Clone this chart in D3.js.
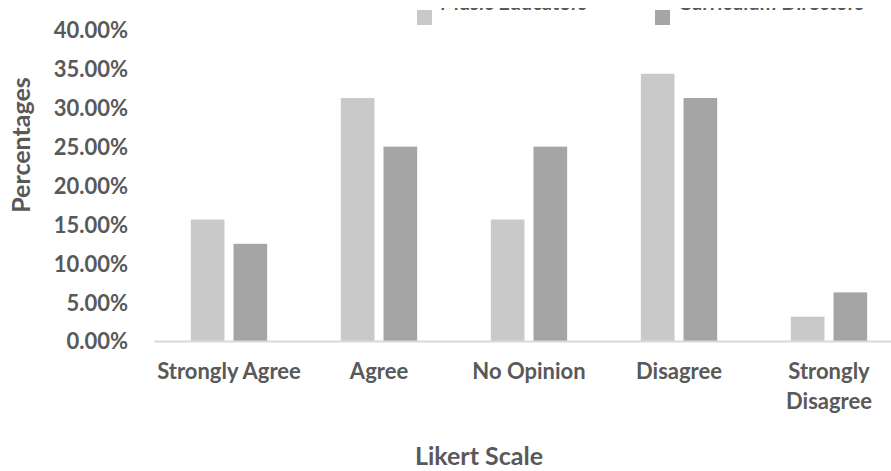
<!DOCTYPE html>
<html>
<head>
<meta charset="utf-8">
<script src="https://cdn.jsdelivr.net/npm/d3@7/dist/d3.min.js"></script>
<style>
  html, body { margin: 0; padding: 0; background: #ffffff; }
  svg { display: block; font-family: Lato, "Open Sans", sans-serif; font-weight: bold; }
</style>
</head>
<body>
<svg id="chart" width="891" height="471"></svg>
<script>
// Survey responses on a five-point Likert scale, share of each group
const categories = ["Strongly Agree", "Agree", "No Opinion", "Disagree", "Strongly Disagree"];
const seriesNames = ["Music Educators", "Curriculum Directors"];
const musicEducators = [0.15625, 0.3125, 0.15625, 0.34375, 0.03125];
const curriculumDirectors = [0.125, 0.25, 0.25, 0.3125, 0.0625];
const yTicks = [0, 0.05, 0.10, 0.15, 0.20, 0.25, 0.30, 0.35, 0.40];
const seriesColors = ["#c9c9c9", "#a5a5a5"];

const seriesValues = [musicEducators, curriculumDirectors];
const rows = categories.map((c, i) => ({
  category: c,
  values: seriesNames.map((s, j) => ({ series: s, value: seriesValues[j][i] }))
}));

const svg = d3.select("#chart");
const textColor = "#595959";

const plot = { left: 154, right: 904, top: 30, bottom: 341 };

const x0 = d3.scaleBand().domain(categories).range([plot.left, plot.right]).paddingInner(0).paddingOuter(0);
const x1 = d3.scaleBand().domain(seriesNames).range([0, x0.bandwidth()]).paddingInner(0.211).paddingOuter(0.864);
const y = d3.scaleLinear().domain([0, 0.4]).range([plot.bottom, plot.top]);
const color = d3.scaleOrdinal().domain(seriesNames).range(seriesColors);

// Bars
const groups = svg.append("g").selectAll("g")
  .data(rows).join("g")
  .attr("transform", d => `translate(${x0(d.category)},0)`);

groups.selectAll("rect")
  .data(d => d.values).join("rect")
  .attr("x", d => x1(d.series))
  .attr("width", x1.bandwidth())
  .attr("y", d => y(d.value))
  .attr("height", d => y(0) - y(d.value))
  .attr("fill", d => color(d.series));

// Y axis: labels only
const yAxis = svg.append("g")
  .attr("transform", "translate(128,0)")
  .call(d3.axisLeft(y).tickValues(yTicks).tickFormat(d3.format(".2%")).tickSize(0).tickPadding(0));
yAxis.select(".domain").remove();
yAxis.selectAll("text")
  .attr("fill", textColor)
  .attr("font-size", 22)
  .attr("font-family", "Lato, 'Open Sans', sans-serif")
  .attr("font-weight", "bold")
  .attr("dy", "0.36em");

// X axis: baseline and wrapped category labels
const xAxis = svg.append("g")
  .attr("transform", `translate(0,${plot.bottom})`)
  .call(d3.axisBottom(x0).tickSize(0).tickSizeOuter(0).tickPadding(0));
xAxis.select(".domain").attr("stroke", "#d9d9d9").attr("stroke-width", 2);
xAxis.selectAll("text")
  .attr("fill", textColor)
  .attr("font-size", 22)
  .attr("font-family", "Lato, 'Open Sans', sans-serif")
  .attr("font-weight", "bold")
  .attr("dy", null)
  .attr("y", 38)
  .each(function () { wrap(d3.select(this), x0.bandwidth(), 30); });

function wrap(text, width, lineHeight) {
  const words = text.text().split(/\s+/);
  const y0 = +text.attr("y");
  text.text(null);
  let line = [];
  let lineNo = 0;
  let tspan = text.append("tspan").attr("x", 0).attr("y", y0);
  words.forEach(w => {
    line.push(w);
    tspan.text(line.join(" "));
    if (tspan.node().getComputedTextLength() > width && line.length > 1) {
      line.pop();
      tspan.text(line.join(" "));
      line = [w];
      lineNo += 1;
      tspan = text.append("tspan").attr("x", 0).attr("y", y0 + lineNo * lineHeight).text(w);
    }
  });
}

// Axis titles
svg.append("text")
  .attr("transform", "translate(30,145) rotate(-90)")
  .attr("text-anchor", "middle")
  .attr("fill", textColor)
  .attr("font-size", 25)
  .text("Percentages");

svg.append("text")
  .attr("x", 479)
  .attr("y", 465)
  .attr("text-anchor", "middle")
  .attr("fill", textColor)
  .attr("font-size", 25)
  .text("Likert Scale");

// Legend along the top edge; the chart frame starts at y = 8,
// so only the foot of each label is left inside it
const legendX = [417, 655];
svg.append("defs").append("clipPath").attr("id", "legend-clip")
  .append("rect").attr("x", 0).attr("y", 8).attr("width", 891).attr("height", 40);

svg.append("g").selectAll("rect")
  .data(seriesNames).join("rect")
  .attr("x", (d, i) => legendX[i]).attr("y", 10)
  .attr("width", 15).attr("height", 15)
  .attr("fill", d => color(d));

svg.append("g")
  .attr("clip-path", "url(#legend-clip)")
  .selectAll("text")
  .data(seriesNames).join("text")
  .attr("x", (d, i) => legendX[i] + 23).attr("y", 9.8)
  .attr("fill", textColor)
  .attr("font-size", 20)
  .text(d => d);
</script>
</body>
</html>
